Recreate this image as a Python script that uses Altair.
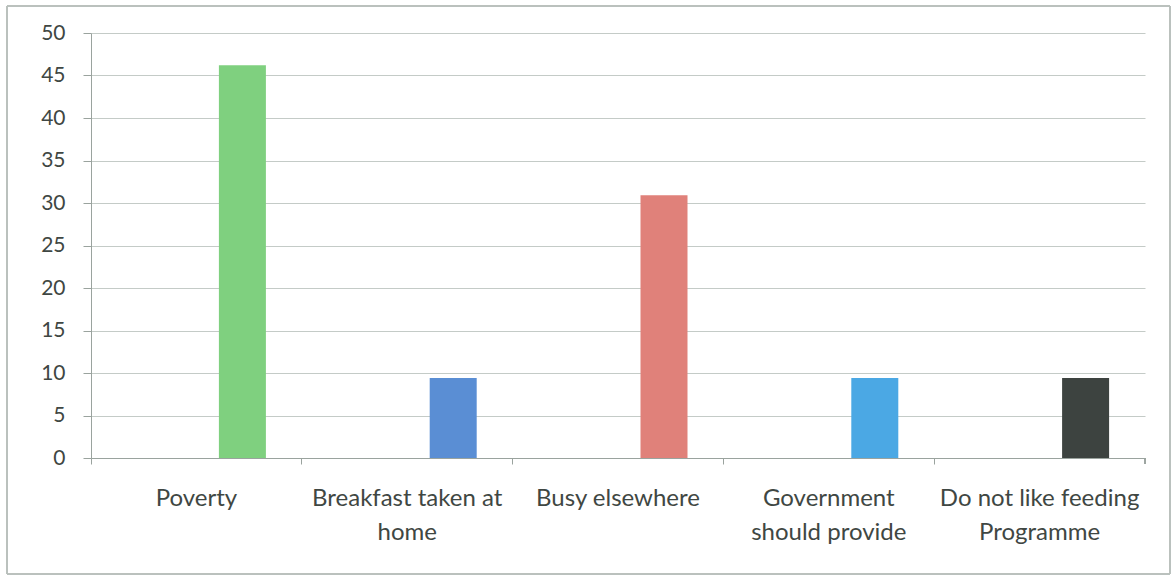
import altair as alt
import pandas as pd

categories = ["Poverty", "Breakfast taken at home", "Busy elsewhere",
              "Government should provide", "Do not like feeding Programme"]
label_lines = [["Poverty"], ["Breakfast taken at", "home"], ["Busy elsewhere"],
               ["Government", "should provide"], ["Do not like feeding", "Programme"]]
values = [46.2, 9.4, 30.9, 9.4, 9.4]
colors = ["#7fd07f", "#5a8ed4", "#e0817a", "#4ba8e4", "#3d4340"]

df = pd.DataFrame({"cat": categories, "val": values})

W, H = 1054, 425
label_expr = "{" + ", ".join(
    f"'{c}': {l}" for c, l in zip(categories, [str(x) for x in label_lines])
) + "}[datum.value]"

font = "Lato"
txt = "#3f4743"

bars = alt.Chart(df).mark_bar(size=47, xOffset=46).encode(
    x=alt.X("cat:N", sort=categories,
            scale=alt.Scale(paddingInner=0, paddingOuter=0),
            axis=alt.Axis(title=None, labelAngle=0, labelExpr=label_expr,
                          bandPosition=0, ticks=True, tickSize=6, tickColor="#9aa39e",
                          domainColor="#9aa39e", labelFont=font, labelFontSize=24,
                          labelColor=txt, labelPadding=22, labelLineHeight=34,
                          labelBaseline="top", labelBound=False, labelOverlap=False,
                          labelLimit=400, labelOffset=0, grid=False)),
    y=alt.Y("val:Q", scale=alt.Scale(domain=[0, 50], nice=False),
            axis=alt.Axis(title=None, values=list(range(0, 51, 5)), tickSize=8,
                          tickColor="#9aa39e", domainColor="#9aa39e",
                          gridColor="#c4cbc7", labelFont=font, labelFontSize=21,
                          labelColor=txt, labelPadding=18)),
    color=alt.Color("cat:N", sort=categories,
                    scale=alt.Scale(domain=categories, range=colors), legend=None),
)

end_tick = alt.Chart(df).mark_rule(color="#9aa39e").encode(
    x=alt.value(W), y=alt.value(H), y2=alt.value(H + 6)
)

frame = alt.Chart(df).mark_rect(fill=None, stroke="#b8bfbb", strokeWidth=1).encode(
    x=alt.value(-84), x2=alt.value(1079), y=alt.value(-27), y2=alt.value(541)
)

chart = alt.layer(frame, bars, end_tick).properties(
    width=W, height=H,
    autosize=alt.AutoSizeParams(type="none"),
    padding={"left": 91, "top": 33, "right": 31, "bottom": 127},
    background="white",
).configure_view(stroke=None)

chart.save("out.html", embed_options={"renderer": "svg", "actions": False})
